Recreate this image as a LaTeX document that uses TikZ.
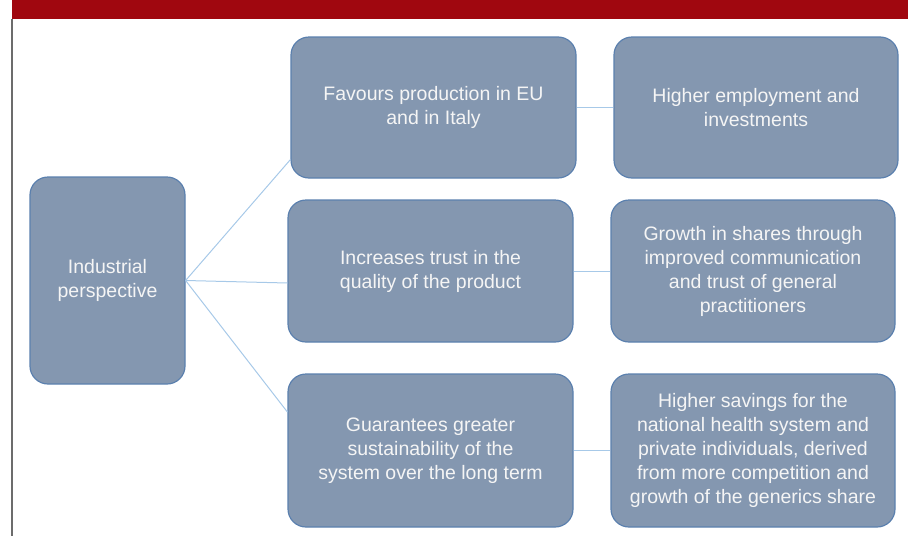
\documentclass[tikz,border=0pt]{standalone}
\usepackage{fontspec}
\setmainfont{Liberation Sans}
\usetikzlibrary{calc}
\definecolor{boxfill}{HTML}{8497B0}
\definecolor{boxedge}{HTML}{5B80AE}
\definecolor{linkblue}{HTML}{A7C9E8}
\definecolor{banner}{HTML}{A0070F}
\definecolor{boxtext}{HTML}{F5F5F5}
\begin{document}
\begin{tikzpicture}[x=1pt,y=-1pt,
  card/.style={draw=boxedge, line width=1.2pt, fill=boxfill, rounded corners=18pt,
    inner sep=0pt, align=center, text=boxtext,
    font=\fontsize{19.5}{24}\selectfont},
  link/.style={draw=linkblue, line width=1pt}]
\useasboundingbox (0,0) rectangle (908,536);
% title band and left rule
\fill[banner] (12,0) rectangle (908,19);
\draw[gray!85!black, line width=1.4pt] (12,19) -- (12,536);

% boxes
\node[card, minimum width=155pt, minimum height=207pt] (L) at (107.5,280.5) {Industrial\\perspective};
\node[card, minimum width=285pt, minimum height=141pt] (m1) at (433.5,107.5) {Favours production in EU\\and in Italy};
\node[card, minimum width=284pt, minimum height=141pt] (r1) at (756,107.5) {Higher employment and\\investments};
\node[card, minimum width=285pt, minimum height=142pt] (m2) at (430.5,271) {Increases trust in the\\quality of the product};
\node[card, minimum width=284pt, minimum height=142pt] (r2) at (753,271) {Growth in shares through\\improved communication\\and trust of general\\practitioners};
\node[card, minimum width=285pt, minimum height=153pt] (m3) at (430.5,450.5) {Guarantees greater\\sustainability of the\\system over the long term};
\node[card, minimum width=284pt, minimum height=153pt] (r3) at (753,450.5) {Higher savings for the\\national health system and\\private individuals, derived\\from more competition and\\growth of the generics share};

% connectors from the root to the three middle boxes, then across
\coordinate (e1) at ($(m1.south west)+(0,-19)$);
\coordinate (e2) at ($(m2.west)+(0,12)$);
\coordinate (e3) at ($(m3.west)+(0,-38.5)$);
\draw[link] (L.east) -- (e1);
\draw[link] (L.east) -- (e2);
\draw[link] (L.east) -- (e3);
\draw[link] (m1.east) -- (r1.west);
\draw[link] (m2.east) -- (r2.west);
\draw[link] (m3.east) -- (r3.west);
\end{tikzpicture}
\end{document}
